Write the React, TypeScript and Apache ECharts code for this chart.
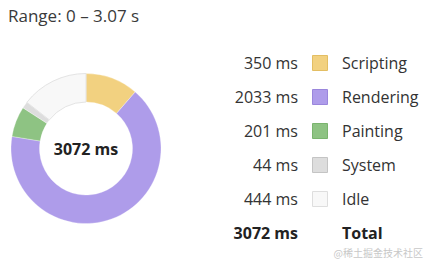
import React, { useEffect, useRef } from "react";
import * as echarts from "echarts";

const categories = ["Scripting", "Rendering", "Painting", "System", "Idle"];
const values = [350, 2033, 201, 44, 444];
const colors = ["#F2D180", "#AE9CEA", "#8EC383", "#DDDDDD", "#F8F8F8"];
const borders = ["#E3BE63", "#9A86DC", "#7AB46E", "#C4C4C4", "#DEDEDE"];
const rangeLabel = "Range: 0 – 3.07 s";
const totalLabel = "Total";
const watermark = "@稀土掘金技术社区";

const FONT = "'Open Sans', 'Noto Sans', sans-serif";

export default function App() {
  const ref = useRef<HTMLDivElement>(null);
  useEffect(() => {
    if (!ref.current) return;
    const chart = echarts.init(ref.current, undefined, { renderer: "svg" });
    const total = values.reduce((a, b) => a + b, 0);
    const rowY0 = 63;
    const rowStep = 34;
    const graphics: any[] = [
      {
        type: "text",
        x: 8,
        y: 15,
        style: { text: rangeLabel, font: `17px ${FONT}`, fill: "#3a3a3a", verticalAlign: "middle" },
      },
    ];
    categories.forEach((c, i) => {
      const y = rowY0 + i * rowStep;
      graphics.push({
        type: "text",
        x: 298,
        y,
        style: {
          text: `${values[i]} ms`,
          font: `16px ${FONT}`,
          fill: "#333",
          align: "right",
          verticalAlign: "middle",
        },
      });
      graphics.push({
        type: "rect",
        shape: { x: 312.5, y: y - 7.5, width: 15, height: 15 },
        style: { fill: colors[i], stroke: borders[i], lineWidth: 1 },
      });
      graphics.push({
        type: "text",
        x: 342,
        y,
        style: {
          text: c,
          font: `16px ${FONT}`,
          fill: "#333",
          verticalAlign: "middle",
        },
      });
    });
    const ty = rowY0 + categories.length * rowStep;
    graphics.push({
      type: "text",
      x: 298,
      y: ty,
      style: {
        text: `${total} ms`,
        font: `bold 16px ${FONT}`,
        fill: "#222",
        align: "right",
        verticalAlign: "middle",
      },
    });
    graphics.push({
      type: "text",
      x: 342,
      y: ty,
      style: {
        text: totalLabel,
        font: `bold 16px ${FONT}`,
        fill: "#222",
        verticalAlign: "middle",
      },
    });
    graphics.push({
      type: "text",
      x: 423,
      y: 252,
      style: {
        text: watermark,
        font: `10px 'Noto Sans CJK SC', sans-serif`,
        fill: "#c8c8c8",
        align: "right",
        verticalAlign: "middle",
      },
    });
    graphics.push({
      type: "text",
      x: 86,
      y: 149,
      style: {
        text: `${total} ms`,
        font: `bold 16px ${FONT}`,
        fill: "#222",
        align: "center",
        verticalAlign: "middle",
      },
    });

    chart.setOption({
      animation: false,
      graphic: graphics,
      series: [
        {
          type: "pie",
          center: [86, 148.5],
          radius: [46.5, 75],
          startAngle: 90,
          clockwise: true,
          label: { show: false },
          labelLine: { show: false },
          silent: true,
          data: categories.map((c, i) => ({
            name: c,
            value: values[i],
            itemStyle: {
              color: colors[i],
              borderColor: i === 4 ? "#E4E4E4" : "rgba(255,255,255,0.6)",
              borderWidth: i === 4 ? 1 : 0.5,
            },
          })),
        },
      ],
    });
    return () => chart.dispose();
  }, []);
  return (
    <div
      ref={ref}
      style={{ position: "absolute", left: 0, top: 0, width: 432, height: 263 }}
    />
  );
}
